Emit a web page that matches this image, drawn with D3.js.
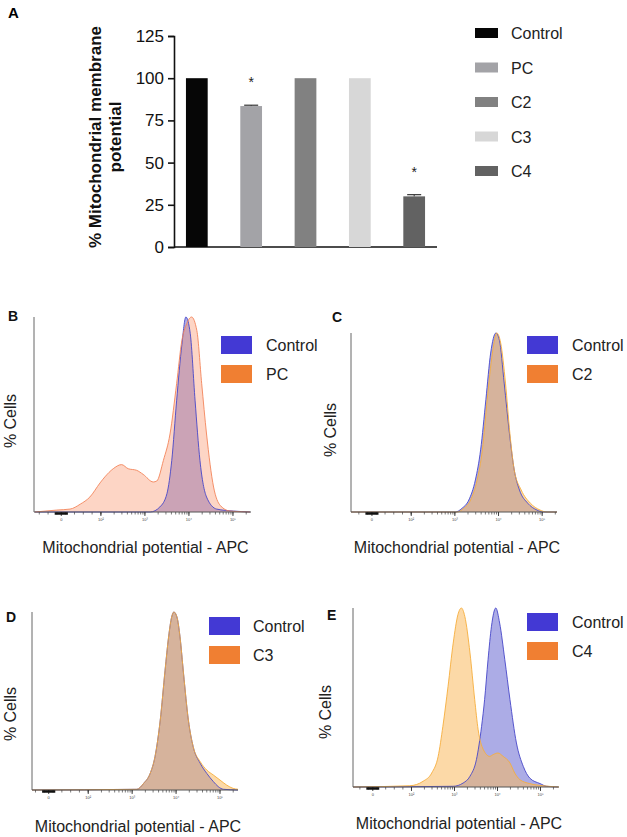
<!DOCTYPE html>
<html lang="en">
<head>
    <meta charset="UTF-8">
    <title>Mitochondrial membrane potential</title>
    <script src="https://d3js.org/d3.v7.min.js"></script>
    <style>
        body { margin: 0; background: #fff; }
        svg { font-family: "Liberation Sans", Arial, sans-serif; }
    </style>
</head>
<body>
    <svg id="chart" width="627" height="837"></svg>

    <script>
        // ---- panel A data ----
        const groups = ["Control", "PC", "C2", "C3", "C4"];
        const meanPct = [100, 83.5, 100, 100, 30];
        const errPct = [0, 0.5, 0, 0, 1];
        const significant = [false, true, false, false, true];
        const barColors = ["#060606", "#a3a3a7", "#818181", "#d7d7d7", "#626262"];
        const yTicks = [0, 25, 50, 75, 100, 125];

        // ---- histogram data: [decade position, % of peak] ----
        const bControl = [[0.50,0],[3.12,0],[3.34,2.6],[3.50,9.4],[3.61,26.5],[3.72,57],[3.84,86],[3.93,100],[4.03,91.5],[4.14,57],[4.25,26.5],[4.40,7.7],[4.63,1.5],[5.01,0.5],[5.39,0]];
        const bPC = [[0.50,0],[1.0,1],[1.30,1.5],[1.53,4],[1.75,7.7],[1.98,14.9],[2.09,18],[2.28,22.2],[2.47,24.3],[2.62,22.2],[2.81,21.4],[2.96,19.3],[3.19,15.4],[3.27,15.9],[3.42,26.5],[3.57,40],[3.72,65.8],[3.84,88],[3.95,96.6],[4.06,100],[4.18,93],[4.29,65.8],[4.40,40],[4.56,12.8],[4.71,3.4],[4.93,0.5],[5.39,0]];
        const cControl = [[0.62,0],[3.01,0],[3.16,2],[3.32,6.7],[3.47,17.9],[3.59,34.7],[3.71,62.7],[3.82,88.8],[3.94,100],[4.02,96],[4.13,72],[4.25,44],[4.36,23.5],[4.48,12.3],[4.67,4.9],[4.88,1.1],[5.03,0],[5.34,0]];
        const cC2 = [[0.62,0],[3.05,0],[3.20,2],[3.36,6.7],[3.51,17.9],[3.63,34.7],[3.74,62.7],[3.86,88.8],[3.96,100],[4.05,94.4],[4.16,72],[4.26,44],[4.36,23.5],[4.52,12.3],[4.73,4.9],[4.95,1.1],[5.11,0],[5.34,0]];
        const dControl = [[0.72,0],[3.11,0.4],[3.26,3.7],[3.41,9.3],[3.52,18.7],[3.64,39.3],[3.75,67.3],[3.83,86],[3.90,97.2],[3.95,100],[4.02,97.2],[4.09,86],[4.17,65.4],[4.28,39.3],[4.39,24.3],[4.55,15],[4.70,9.3],[4.85,4.7],[4.96,1.9],[5.08,0.4],[5.41,0]];
        const dC3 = [[0.72,0],[3.11,0.4],[3.26,3.7],[3.41,9.3],[3.52,18.7],[3.64,39.3],[3.75,67.3],[3.83,86],[3.90,97.2],[3.95,100],[4.02,97.2],[4.09,86],[4.17,65.4],[4.28,39.3],[4.39,24.3],[4.55,15.9],[4.70,11.2],[4.85,8.4],[5.0,5.6],[5.15,2.8],[5.30,0.9],[5.41,0.4]];
        const eControl = [[0.64,0],[2.97,0.4],[3.20,2.2],[3.36,6],[3.51,15.3],[3.63,33.9],[3.70,48.8],[3.78,71.1],[3.86,89.8],[3.96,100],[4.05,91.6],[4.17,71.1],[4.29,48.8],[4.44,24.6],[4.60,11.5],[4.75,5],[4.99,1.9],[5.14,0.4],[5.41,0]];
        const eC4 = [[0.64,0],[1.96,0.7],[2.27,3.2],[2.47,7.8],[2.62,17.1],[2.73,33.9],[2.85,56.2],[2.97,80.4],[3.08,96.3],[3.16,100],[3.24,95.3],[3.36,74.9],[3.47,48.8],[3.55,32],[3.67,20.9],[3.82,17.1],[3.90,18.1],[4.01,19],[4.13,17.1],[4.29,13.4],[4.40,7.8],[4.52,4.1],[4.75,1.9],[5.06,0.7],[5.43,0]];

        const flowTickPos = [1.1, 2, 3, 4, 5];
        const flowTickLabels = ["0", "10²", "10³", "10⁴", "10⁵"];

        const svg = d3.select("#chart");

        // ================= Panel A =================
        const y = d3.scaleLinear().domain([0, 125]).range([247, 36]);
        const x = d3.scaleBand().domain(groups).range([174, 437])
            .paddingInner(0.6).paddingOuter(0.22);

        svg.append("text").attr("x", 8).attr("y", 18)
            .attr("font-size", 15).attr("font-weight", "bold").text("A");

        const yAxis = svg.append("g")
            .attr("transform", "translate(174,0)")
            .call(d3.axisLeft(y).tickValues(yTicks).tickSize(6).tickPadding(4));
        yAxis.selectAll("text").attr("font-size", 17).attr("fill", "#111")
            .attr("font-family", "Liberation Sans, Arial, sans-serif");
        yAxis.selectAll("path, line").attr("stroke", "#111").attr("stroke-width", 1.6);

        svg.append("line").attr("x1", 174).attr("x2", 437)
            .attr("y1", y(0)).attr("y2", y(0))
            .attr("stroke", "#111").attr("stroke-width", 1.6);

        const yTitle = svg.append("text")
            .attr("transform", "translate(101,137) rotate(-90)")
            .attr("text-anchor", "middle")
            .attr("font-size", 17).attr("font-weight", "bold").attr("fill", "#111");
        yTitle.append("tspan").attr("x", 0).attr("dy", 0).text("% Mitochondrial membrane");
        yTitle.append("tspan").attr("x", 0).attr("dy", 20).text("potential");

        svg.selectAll(".bar")
            .data(groups)
            .enter().append("rect")
            .attr("class", "bar")
            .attr("x", d => x(d))
            .attr("width", x.bandwidth())
            .attr("y", (d, i) => y(meanPct[i]))
            .attr("height", (d, i) => y(0) - y(meanPct[i]))
            .attr("fill", (d, i) => barColors[i]);

        // error bars (upper whisker only)
        groups.forEach((g, i) => {
            if (errPct[i] === 0) return;
            const cx = x(g) + x.bandwidth() / 2;
            svg.append("line").attr("x1", cx).attr("x2", cx)
                .attr("y1", y(meanPct[i])).attr("y2", y(meanPct[i] + errPct[i]))
                .attr("stroke", "#333").attr("stroke-width", 1);
            svg.append("line").attr("x1", cx - 7).attr("x2", cx + 7)
                .attr("y1", y(meanPct[i] + errPct[i])).attr("y2", y(meanPct[i] + errPct[i]))
                .attr("stroke", "#333").attr("stroke-width", 1.2);
            if (significant[i]) {
                svg.append("text").attr("x", cx).attr("y", y(meanPct[i] + errPct[i] + 16) + 9)
                    .attr("text-anchor", "middle").attr("font-size", 14).attr("fill", "#222")
                    .text("*");
            }
        });

        // legend A
        const legA = svg.selectAll(".legA")
            .data(groups)
            .enter().append("g")
            .attr("class", "legA")
            .attr("transform", (d, i) => `translate(475, ${33 + i * 34.5})`);
        legA.append("rect").attr("x", 0).attr("y", -5).attr("width", 23).attr("height", 10)
            .attr("fill", (d, i) => barColors[i]);
        legA.append("text").attr("x", 36).attr("y", 6).attr("font-size", 16).attr("fill", "#222")
            .text(d => d);

        // ================= Histogram panels =================
        const panels = [
            { label: "B", x0: 34, x1: 251, top: 317, base: 512, dom: [0.48, 5.41],
              control: bControl, sample: bPC, name: "PC",
              sFill: "rgba(250,150,110,0.40)", sStroke: "#f3845a",
              labelX: 8, labelY: 321, titleX: 10, titleY: 421, axisTitleY: 553,
              legX: 221, legY: 336, legText: 266 },
            { label: "C", x0: 351, x1: 557, top: 333, base: 512, dom: [0.62, 5.34],
              control: cControl, sample: cC2, name: "C2",
              sFill: "rgba(250,185,95,0.55)", sStroke: "#f6ae3c",
              labelX: 332, labelY: 322, titleX: 330, titleY: 430, axisTitleY: 553,
              legX: 527, legY: 336, legText: 572 },
            { label: "D", x0: 32, x1: 238, top: 612, base: 790, dom: [0.72, 5.41],
              control: dControl, sample: dC3, name: "C3",
              sFill: "rgba(250,185,95,0.55)", sStroke: "#f6ae3c",
              labelX: 6, labelY: 622, titleX: 10, titleY: 714, axisTitleY: 832,
              legX: 209, legY: 617, legText: 253 },
            { label: "E", x0: 353, x1: 559, top: 608, base: 787, dom: [0.64, 5.43],
              control: eControl, sample: eC4, name: "C4",
              sFill: "rgba(250,185,95,0.55)", sStroke: "#f6ae3c",
              labelX: 327, labelY: 620, titleX: 325, titleY: 712, axisTitleY: 829,
              legX: 527, legY: 613, legText: 572 }
        ];

        panels.forEach(p => {
            const g = svg.append("g");
            const xs = d3.scaleLinear().domain(p.dom).range([p.x0, p.x1]);
            const ys = d3.scaleLinear().domain([0, 100]).range([p.base, p.top]);

            const area = d3.area()
                .x(d => xs(d[0])).y0(p.base).y1(d => ys(d[1]))
                .curve(d3.curveMonotoneX);
            const line = d3.line()
                .x(d => xs(d[0])).y(d => ys(d[1]))
                .curve(d3.curveMonotoneX);

            g.append("path").datum(p.control).attr("d", area)
                .attr("fill", "rgba(70,70,200,0.45)");
            g.append("path").datum(p.sample).attr("d", area)
                .attr("fill", p.sFill);
            g.append("path").datum(p.control).attr("d", line)
                .attr("fill", "none").attr("stroke", "#4646c8").attr("stroke-width", 0.9);
            g.append("path").datum(p.sample).attr("d", line)
                .attr("fill", "none").attr("stroke", p.sStroke).attr("stroke-width", 0.9);

            // axes
            g.append("line").attr("x1", p.x0).attr("x2", p.x0).attr("y1", p.top).attr("y2", p.base)
                .attr("stroke", "#666").attr("stroke-width", 1);
            g.append("line").attr("x1", p.x0).attr("x2", p.x1).attr("y1", p.base).attr("y2", p.base)
                .attr("stroke", "#555").attr("stroke-width", 1);

            // minor log ticks and linear ticks near zero
            const minor = [];
            for (let u = Math.ceil(p.dom[0] * 5) / 5; u < 2; u += 0.2) minor.push(u);
            for (let dec = 2; dec < 6; dec++) {
                for (let k = 1; k <= 9; k++) {
                    const u = dec + Math.log10(k);
                    if (u <= p.dom[1]) minor.push(u);
                }
            }
            g.selectAll(".mt").data(minor).enter().append("line")
                .attr("x1", d => xs(d)).attr("x2", d => xs(d))
                .attr("y1", p.base).attr("y2", p.base + 2.5)
                .attr("stroke", "#444").attr("stroke-width", 0.7);
            g.selectAll(".Mt").data(flowTickPos).enter().append("line")
                .attr("x1", d => xs(d)).attr("x2", d => xs(d))
                .attr("y1", p.base).attr("y2", p.base + 4)
                .attr("stroke", "#333").attr("stroke-width", 0.9);
            g.append("line").attr("x1", xs(0.95)).attr("x2", xs(1.25))
                .attr("y1", p.base + 1.5).attr("y2", p.base + 1.5)
                .attr("stroke", "#111").attr("stroke-width", 2.5);
            g.selectAll(".tl").data(flowTickPos).enter().append("text")
                .attr("x", d => xs(d)).attr("y", p.base + 9)
                .attr("text-anchor", "middle").attr("font-size", 4).attr("fill", "#444")
                .text((d, i) => flowTickLabels[i]);

            // titles
            g.append("text").attr("x", p.labelX).attr("y", p.labelY)
                .attr("font-size", 14).attr("font-weight", "bold").attr("fill", "#111").text(p.label);
            g.append("text")
                .attr("transform", `translate(${p.titleX + 6},${p.titleY}) rotate(-90)`)
                .attr("text-anchor", "middle").attr("font-size", 16).attr("fill", "#222")
                .text("% Cells");
            g.append("text").attr("x", (p.x0 + p.x1) / 2 + 3).attr("y", p.axisTitleY)
                .attr("text-anchor", "middle").attr("font-size", 16).attr("fill", "#222")
                .text("Mitochondrial potential - APC");

            // legend
            const leg = [["Control", "#4339d4"], [p.name, "#f07f32"]];
            leg.forEach((l, i) => {
                g.append("rect").attr("x", p.legX).attr("y", p.legY + i * 29)
                    .attr("width", 31).attr("height", 18).attr("fill", l[1]);
                g.append("text").attr("x", p.legText).attr("y", p.legY + i * 29 + 15)
                    .attr("font-size", 16).attr("fill", "#222").text(l[0]);
            });
        });
    </script>
</body>
</html>
